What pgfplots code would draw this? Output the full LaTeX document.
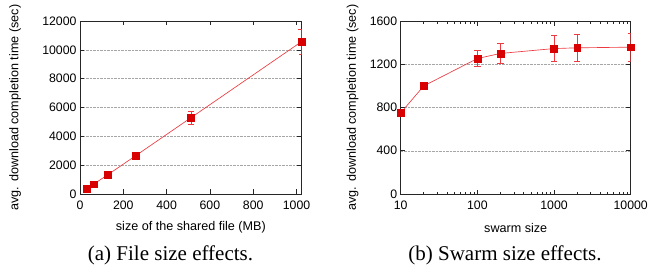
\documentclass[border=0pt]{standalone}
\usepackage{fontspec}
\setmainfont{Liberation Sans}
\newfontfamily\capfont{Liberation Serif}
\usepackage{pgfplots}
\pgfplotsset{compat=1.18}
\definecolor{lred}{HTML}{EC3A40}
\definecolor{mred}{HTML}{D80000}
\pgfplotsset{
  myaxis/.style={
    scale only axis,
    height=173pt,
    axis line style={line width=0.8pt, black!85},
    tick style={black!85, line width=0.6pt},
    major tick length=4.5pt,
    minor tick length=2.5pt,
    ymajorgrids,
    grid style={densely dotted, gray!70, line width=0.5pt},
    ymin=0,
    scaled ticks=false,
    /pgf/number format/assume math mode=true,
    /pgf/number format/set thousands separator={},
    tick label style={font=\fontsize{12.3}{14}\selectfont},
    xticklabel style={yshift=-3.5pt},
    label style={font=\fontsize{12.6}{14}\selectfont},
    ylabel={avg. download completion time (sec)},
  },
  myplot/.style={
    lred, line width=0.65pt,
    mark=square*, mark size=3.4pt,
    mark options={fill=mred, draw=mred, line width=0.3pt},
    error bars/.cd, y dir=both, y explicit,
    error bar style={lred, line width=0.6pt},
    error mark options={rotate=90, mark size=3.2pt, lred, line width=0.6pt},
  },
}
\begin{document}
\begin{tikzpicture}
\useasboundingbox (0pt,0pt) rectangle (648pt,271pt);
\begin{axis}[myaxis,
  at={(80pt,77pt)}, anchor=south west,
  width=221.7pt,
  xmin=0, xmax=1024,
  ymax=12000,
  xtick={0,200,400,600,800,1000},
  ytick={0,2000,4000,6000,8000,10000,12000},
  xlabel={size of the shared file (MB)},
  xlabel style={at={(axis description cs:0.5,-0.195)}, anchor=center},
  ylabel style={at={(axis description cs:-0.293,0.5)}, anchor=center},
]
\addplot+[myplot] table[x=x, y=y, y error=e] {
x y e
32 345 60
64 690 80
128 1333 90
256 2644 120
512 5287 460
1024 10575 862
};
\end{axis}
\begin{axis}[myaxis,
  at={(400.7pt,77pt)}, anchor=south west,
  width=230pt,
  xmode=log,
  xmin=10, xmax=10000,
  ymax=1600,
  xtick={10,100,1000,10000},
  xticklabels={10,100,1000,10000},
  ytick={0,400,800,1200,1600},
  xlabel={swarm size},
  xlabel style={at={(axis description cs:0.5,-0.195)}, anchor=center},
  ylabel style={at={(axis description cs:-0.209,0.5)}, anchor=center},
]
\addplot+[myplot] table[x=x, y=y, y error=e] {
x y e
10 750 10
20 1000 12
100 1253 74
200 1300 90
1000 1345 122
2000 1352 125
10000 1358 128
};
\end{axis}
\node[font=\capfont\fontsize{21}{24}\selectfont, anchor=base] at (170.5pt,11pt) {(a) File size effects.};
\node[font=\capfont\fontsize{21}{24}\selectfont, anchor=base] at (505pt,11pt) {(b) Swarm size effects.};
\end{tikzpicture}
\end{document}
